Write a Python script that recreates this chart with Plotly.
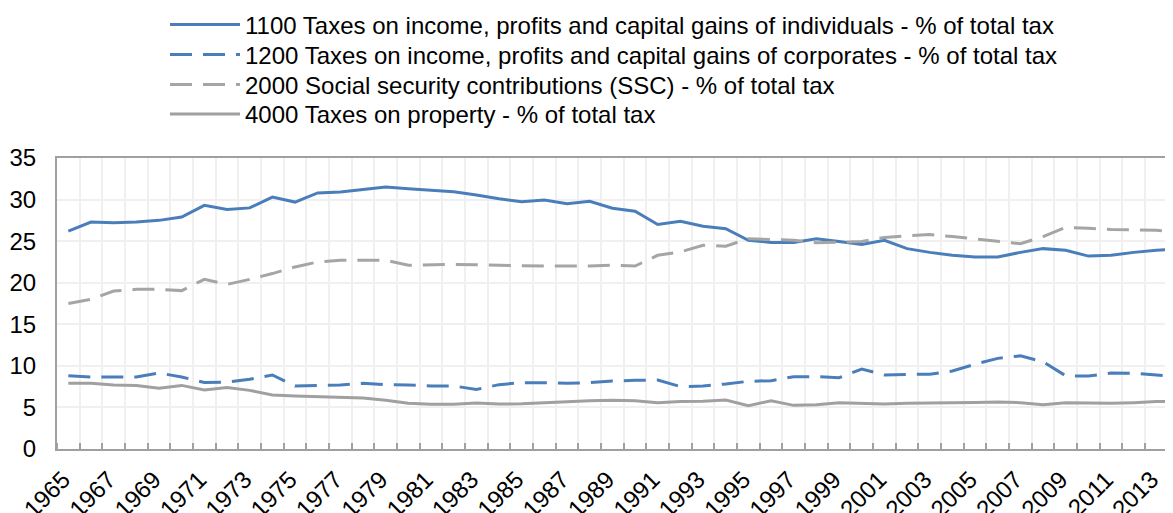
import plotly.graph_objects as go

years = list(range(1965, 2015))

individuals = [26.2, 27.3, 27.2, 27.3, 27.5, 27.9, 29.3, 28.8, 29.0, 30.3,
               29.7, 30.8, 30.9, 31.2, 31.5, 31.3, 31.15, 30.95, 30.55, 30.1,
               29.75, 29.95, 29.5, 29.8, 28.95, 28.6, 27.0, 27.4, 26.8, 26.5,
               25.1, 24.85, 24.85, 25.3, 24.95, 24.6, 25.1, 24.1, 23.65, 23.3,
               23.1, 23.1, 23.65, 24.1, 23.9, 23.2, 23.3, 23.65, 23.9, 24.1]

corporates = [8.8, 8.66, 8.66, 8.66, 9.14, 8.66, 8.0, 8.05, 8.4, 8.9,
              7.58, 7.6, 7.7, 7.9, 7.75, 7.7, 7.58, 7.58, 7.17, 7.74,
              7.98, 7.98, 7.9, 7.98, 8.18, 8.26, 8.3, 7.5, 7.58, 7.82,
              8.14, 8.22, 8.7, 8.7, 8.58, 9.62, 8.9, 8.98, 8.98, 9.38,
              10.2, 10.9, 11.2, 10.5, 8.8, 8.78, 9.14, 9.1, 8.94, 8.7]

ssc = [17.5, 18.0, 19.0, 19.2, 19.2, 19.05, 20.4, 19.8, 20.4, 21.1,
       21.9, 22.5, 22.7, 22.7, 22.7, 22.1, 22.15, 22.2, 22.15, 22.1,
       22.0, 22.0, 22.0, 22.0, 22.1, 22.0, 23.3, 23.7, 24.5, 24.4,
       25.3, 25.2, 25.1, 24.8, 24.85, 24.95, 25.45, 25.65, 25.8, 25.55,
       25.25, 24.95, 24.7, 25.55, 26.65, 26.55, 26.4, 26.35, 26.3, 26.1]

property_tax = [7.9, 7.9, 7.7, 7.65, 7.3, 7.65, 7.1, 7.4, 7.05, 6.5,
                6.37, 6.3, 6.25, 6.13, 5.85, 5.5, 5.37, 5.37, 5.53, 5.4,
                5.45, 5.57, 5.77, 5.8, 5.85, 5.8, 5.57, 5.7, 5.73, 5.9,
                5.2, 5.8, 5.25, 5.33, 5.57, 5.5, 5.4, 5.5, 5.57, 5.57,
                5.6, 5.65, 5.57, 5.33, 5.57, 5.53, 5.5, 5.57, 5.7, 5.7]

names = [
    "1100 Taxes on income, profits and capital gains of individuals - % of total tax",
    "1200 Taxes on income, profits and capital gains of corporates - % of total tax",
    "2000 Social security contributions (SSC) - % of total tax",
    "4000 Taxes on property - % of total tax",
]

tick_years = list(range(1965, 2015, 2))

BLUE = "#4A7EBB"
GRAY = "#A5A5A5"
GRAY2 = "#A0A0A0"
FONT = "Liberation Sans, Arial, sans-serif"

fig = go.Figure()
series = [
    (individuals, BLUE, "solid"),
    (corporates, BLUE, "22px,11px"),
    (ssc, GRAY, "22px,11px"),
    (property_tax, GRAY2, "solid"),
]
legend_ids = ["legend", "legend2", "legend3", "legend4"]
for i, (vals, col, dash) in enumerate(series):
    fig.add_trace(go.Scatter(
        x=years, y=vals, mode="lines", name=names[i], legend=legend_ids[i],
        line=dict(color=col, width=3, dash=dash), cliponaxis=True,
    ))

# the page body adds an 8px offset; figure size and margins compensate
W, H = 1165, 505
OFF = 8
row_centers = [25, 55, 85, 114.5]
legends = {}
for lid, yc in zip(legend_ids, row_centers):
    legends[lid] = dict(
        xref="container", yref="container", x=157 / W, y=1 - (yc - OFF) / H,
        xanchor="left", yanchor="middle",
        font=dict(size=24, family=FONT, color="#000000"), itemwidth=70,
        bgcolor="rgba(0,0,0,0)",
    )

fig.update_layout(
    width=W, height=H,
    margin=dict(l=57 - OFF, r=0, t=158 - OFF, b=H - (449 - OFF), autoexpand=False),
    paper_bgcolor="white", plot_bgcolor="white",
    font=dict(family=FONT, size=24, color="#000000"),
    showlegend=True,
    xaxis=dict(
        range=[1964.5, 2013.73],
        tickmode="array", tickvals=tick_years, ticktext=[str(y) for y in tick_years],
        tickangle=-45, ticks="", showgrid=False, zeroline=False,
        showline=True, linecolor="#A0A0A0", linewidth=2, mirror=True,
        tickfont=dict(size=24), ticklabelshift=-5, ticklabelstandoff=5,
        minor=dict(tickmode="linear", tick0=1964.5, dtick=1, ticks="inside",
                   ticklen=6, tickcolor="#A0A0A0", tickwidth=1.5,
                   showgrid=True, gridcolor="#F0F0F0", gridwidth=1.5),
    ),
    yaxis=dict(
        range=[0, 35], dtick=5, tick0=0, showgrid=True, gridcolor="#F0F0F0",
        gridwidth=1.5, zeroline=False, showline=True, linecolor="#A0A0A0",
        linewidth=2, ticks="", tickfont=dict(size=24), ticklabelstandoff=14,
    ),
    **legends,
)

fig.write_html("out.html")
